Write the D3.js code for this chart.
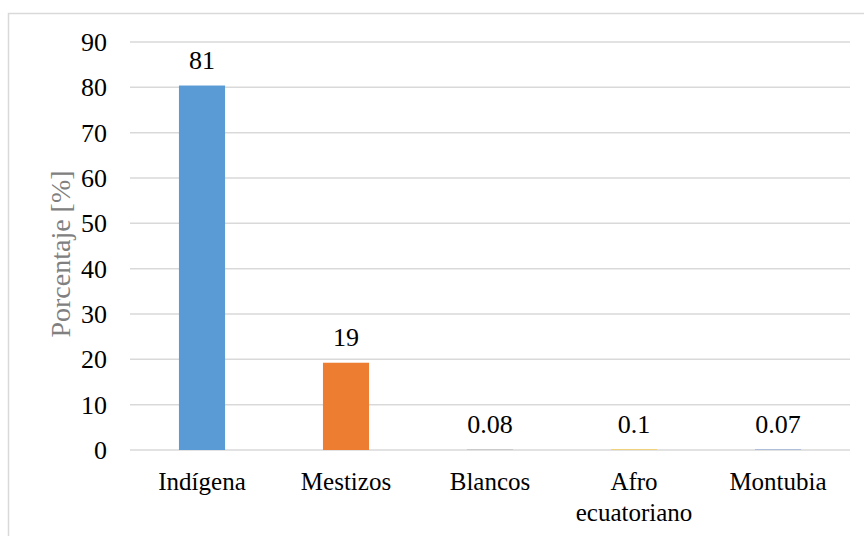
<!DOCTYPE html>
<html>
<head>
<meta charset="utf-8">
<script src="https://cdn.jsdelivr.net/npm/d3@7"></script>
<style>
  body { margin: 0; background: #fff; }
</style>
</head>
<body>
<div id="chart"></div>
<script>
// chart data
const categories = ["Indígena", "Mestizos", "Blancos", "Afro ecuatoriano", "Montubia"];
const values = [80.4, 19.25, 0.08, 0.1, 0.07];
const valueLabels = ["81", "19", "0.08", "0.1", "0.07"];
const yTicks = [0, 10, 20, 30, 40, 50, 60, 70, 80, 90];
const barColors = ["#5B9BD5", "#ED7D31", "#A5A5A5", "#FFC000", "#4472C4"];

const width = 864;
const height = 536;
const serif = "'Liberation Serif', 'Times New Roman', serif";

const svg = d3.select("#chart")
    .append("svg")
    .attr("width", width)
    .attr("height", height)
    .style("font-family", serif);

// outer chart border
svg.append("rect")
    .attr("x", 8.5)
    .attr("y", 13.5)
    .attr("width", 880)
    .attr("height", 560)
    .attr("fill", "none")
    .attr("stroke", "#D9D9D9")
    .attr("stroke-width", 1.5);

const x = d3.scaleBand()
    .domain(categories)
    .range([130, 850])
    .paddingInner(0.68)
    .paddingOuter(0.34);

const y = d3.scaleLinear()
    .domain([0, 90])
    .range([450, 42]);

// gridlines
svg.append("g")
    .selectAll("line")
    .data(yTicks)
    .enter()
    .append("line")
    .attr("x1", 130)
    .attr("x2", 850)
    .attr("y1", d => y(d))
    .attr("y2", d => y(d))
    .attr("stroke", "#D9D9D9")
    .attr("stroke-width", 1.5);

// y tick labels
svg.append("g")
    .selectAll("text")
    .data(yTicks)
    .enter()
    .append("text")
    .attr("x", 107)
    .attr("y", d => y(d) + 9)
    .attr("text-anchor", "end")
    .style("font-family", serif)
    .style("font-size", "26px")
    .attr("fill", "#000")
    .text(d => d);

// bars
svg.append("g")
    .selectAll("rect")
    .data(values)
    .enter()
    .append("rect")
    .attr("x", (d, i) => x(categories[i]))
    .attr("y", d => y(d))
    .attr("width", x.bandwidth())
    .attr("height", d => y(0) - y(d))
    .attr("fill", (d, i) => barColors[i]);

// value labels
svg.append("g")
    .selectAll("text")
    .data(values)
    .enter()
    .append("text")
    .attr("x", (d, i) => x(categories[i]) + x.bandwidth() / 2)
    .attr("y", d => y(d) - 17)
    .attr("text-anchor", "middle")
    .style("font-family", serif)
    .style("font-size", "26px")
    .attr("fill", "#000")
    .text((d, i) => valueLabels[i]);

// category labels (wrap two-word label)
const catG = svg.append("g");
categories.forEach(c => {
    const t = catG.append("text")
        .attr("x", x(c) + x.bandwidth() / 2)
        .attr("y", 490)
        .attr("text-anchor", "middle")
        .style("font-family", serif)
        .style("font-size", "25px")
        .attr("fill", "#000");
    const words = c === "Afro ecuatoriano" ? ["Afro", "ecuatoriano"] : [c];
    words.forEach((w, k) => {
        t.append("tspan")
            .attr("x", x(c) + x.bandwidth() / 2)
            .attr("dy", k === 0 ? 0 : 31)
            .text(w);
    });
});

// y axis title
svg.append("text")
    .attr("transform", "translate(70,254) rotate(-90)")
    .attr("text-anchor", "middle")
    .style("font-family", serif)
    .style("font-size", "28px")
    .attr("fill", "#808080")
    .text("Porcentaje [%]");
</script>
</body>
</html>
